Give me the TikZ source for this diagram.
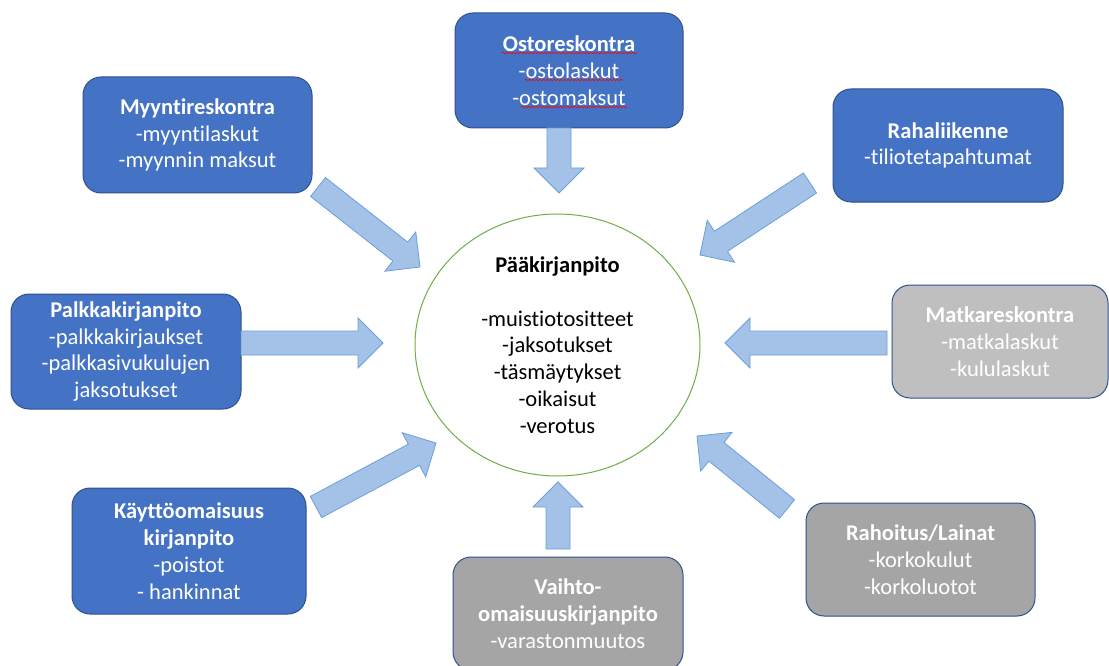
\documentclass[tikz,border=0pt]{standalone}
\usepackage{fontspec}
\setmainfont{Carlito}[Ligatures=NoCommon]
\usetikzlibrary{calc,shapes.geometric,decorations.pathmorphing}
\definecolor{boxblue}{HTML}{4472C4}
\definecolor{boxedge}{HTML}{2F528F}
\definecolor{greyA}{HTML}{BFBFBF}
\definecolor{greyB}{HTML}{A5A5A5}
\definecolor{arrfill}{HTML}{A4C2E8}
\definecolor{arredge}{HTML}{6A9FDA}
\definecolor{ringgreen}{HTML}{70AD47}
\newcommand\blockarrow[2]{%
  \draw[barrow] let \p1=(#1), \p2=(#2), \n1={atan2(\y2-\y1,\x2-\x1)} in
    ($(\p1)+(\n1+90:12pt)$)
    -- ($(\p2)+(\n1+180:25pt)+(\n1+90:12pt)$)
    -- ($(\p2)+(\n1+180:25pt)+(\n1+90:25pt)$)
    -- (\p2)
    -- ($(\p2)+(\n1+180:25pt)+(\n1-90:25pt)$)
    -- ($(\p2)+(\n1+180:25pt)+(\n1-90:12pt)$)
    -- ($(\p1)+(\n1-90:12pt)$) -- cycle;}
\tikzset{
  txt/.style={font=\fontsize{22.5}{26.8}\selectfont},
  basebox/.style={txt, rectangle, rounded corners=18pt, draw=boxedge, line width=1pt,
    text=white, align=center, inner sep=0pt},
  bluebox/.style={basebox, fill=boxblue},
  greyboxA/.style={basebox, fill=greyA},
  greyboxB/.style={basebox, fill=greyB},
  barrow/.style={fill=arrfill, draw=arredge, line width=0.8pt, line join=miter},
  wavy/.style={draw=red, line width=0.6pt, decorate,
    decoration={snake, amplitude=0.9pt, segment length=3.5pt}},
}
\begin{document}
\begin{tikzpicture}[x=1pt,y=-1pt]
\clip (0,0) rectangle (1109,666);
\fill[white] (0,0) rectangle (1109,666);

% central ellipse
\node[txt, ellipse, draw=ringgreen, line width=1pt, fill=white, inner sep=0pt,
  minimum width=285pt, minimum height=262pt, align=center] (paa) at (557.5,345)
  {\textbf{Pääkirjanpito}\\[26.8pt]-muistiotositteet\\-jaksotukset\\-täsmäytykset\\-oikaisut\\-verotus};

% boxes
\node[bluebox, minimum width=228pt, minimum height=115pt] (osto) at (569,70.5)
  {\textbf{Ostoreskontra}\\-ostolaskut\\-ostomaksut};
\node[bluebox, minimum width=229pt, minimum height=116pt] (myynti) at (197.5,135)
  {\textbf{Myyntireskontra}\\-myyntilaskut\\-myynnin maksut};
\node[bluebox, minimum width=230pt, minimum height=113pt] (raha) at (948,145.5)
  {\textbf{Rahaliikenne}\\-tiliotetapahtumat};
\node[bluebox, minimum width=230pt, minimum height=115pt] (palkka) at (126,351.5)
  {\textbf{Palkkakirjanpito}\\-palkkakirjaukset\\-palkkasivukulujen\\jaksotukset};
\node[greyboxA, minimum width=216pt, minimum height=113pt] (matka) at (1000,341.5)
  {\textbf{Matkareskontra}\\-matkalaskut\\-kululaskut};
\node[bluebox, minimum width=234pt, minimum height=126pt] (kaytto) at (189,551)
  {\textbf{Käyttöomaisuus}\\\textbf{kirjanpito}\\-poistot\\- hankinnat};
\node[greyboxB, minimum width=229pt, minimum height=113pt] (rahoitus) at (920.5,559.5)
  {\textbf{Rahoitus/Lainat}\\-korkokulut\\-korkoluotot};
\node[greyboxB, minimum width=230pt, minimum height=113pt] (vaihto) at (568,613.5)
  {\textbf{Vaihto-}\\\textbf{omaisuuskirjanpito}\\-varastonmuutos};

% spell-check underlines
\draw[wavy] (502,53) -- (637,53);
\draw[wavy] (525,80) -- (623,80);
\draw[wavy] (521,107) -- (627,107);

% arrow end points
\coordinate (a1s) at (559,128);   \coordinate (a1e) at (559,193);
\coordinate (a2s) at (318,187);   \coordinate (a2e) at (420,267);
\coordinate (a3s) at (810,183);   \coordinate (a3e) at (700,255);
\coordinate (a4s) at (241,343);   \coordinate (a4e) at (383,343);
\coordinate (a5s) at (887,343);   \coordinate (a5e) at (725,343);
\coordinate (a6s) at (316,507);   \coordinate (a6e) at (436,443);
\coordinate (a7s) at (558,549);   \coordinate (a7e) at (558,482);
\coordinate (a8s) at (787,509);   \coordinate (a8e) at (697,436);

\blockarrow{a1s}{a1e}
\blockarrow{a2s}{a2e}
\blockarrow{a3s}{a3e}
\blockarrow{a4s}{a4e}
\blockarrow{a5s}{a5e}
\blockarrow{a6s}{a6e}
\blockarrow{a7s}{a7e}
\blockarrow{a8s}{a8e}
\end{tikzpicture}
\end{document}
